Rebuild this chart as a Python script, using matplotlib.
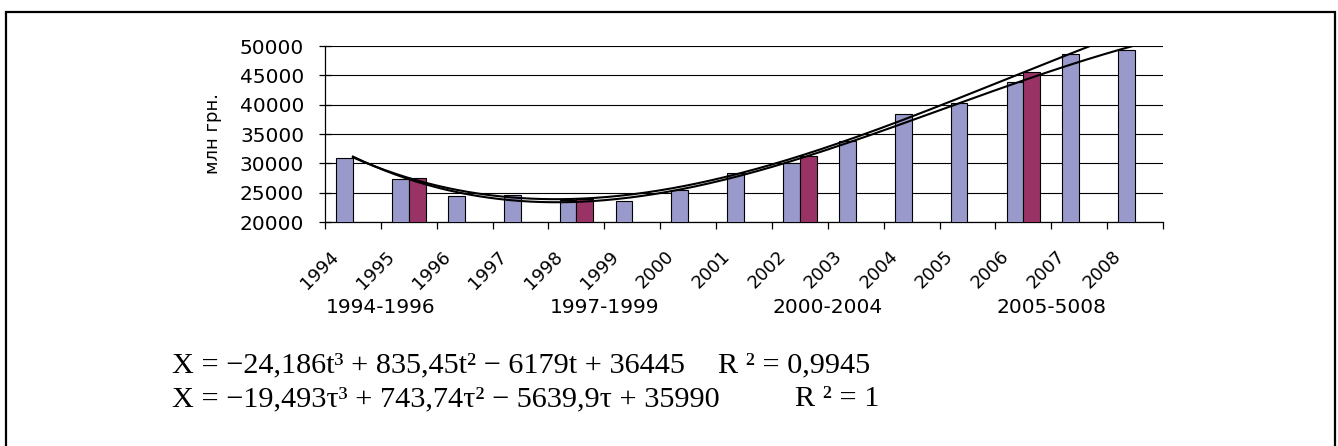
import numpy as np
import matplotlib.pyplot as plt
from matplotlib.patches import Rectangle

# данные (млн грн.)
years = ['1994', '1995', '1996', '1997', '1998', '1999', '2000', '2001',
         '2002', '2003', '2004', '2005', '2006', '2007', '2008']
values = [30900, 27400, 24500, 24600, 23800, 23600, 25500, 28300,
          30000, 33800, 38400, 40300, 43800, 48600, 49300]

# средние по периодам
period_idx = [1, 4, 8, 12]
period_values = [27500, 23950, 31250, 45500]
period_names = ['1994-1996', '1997-1999', '2000-2004', '2005-5008']
period_pos = [0.5, 4.5, 8.5, 12.5]

eq1 = 'X = \u221224,186t\u00b3 + 835,45t\u00b2 \u2212 6179t + 36445'
r1 = 'R \u00b2 = 0,9945'
eq2 = 'X = \u221219,493\u03c4\u00b3 + 743,74\u03c4\u00b2 \u2212 5639,9\u03c4 + 35990'
r2 = 'R \u00b2 = 1'

W, H = 1338, 446
fig = plt.figure(figsize=(W / 100, H / 100), dpi=100)
ax = fig.add_axes([325 / W, 1 - 222 / H, (1163 - 325) / W, (222 - 46) / H])

x = np.arange(len(years))
bw = 0.3
ax.bar(x - bw / 2, values, width=bw, color='#9999CC', edgecolor='black',
       linewidth=0.8, zorder=3)
ax.bar(np.array(period_idx) + bw / 2, period_values, width=bw,
       color='#993366', edgecolor='black', linewidth=0.8, zorder=3)

# полиномиальные тренды 3-й степени
t = x + 1
tt = np.linspace(1, 15, 300)
p1 = np.polyfit(t, values, 3)
p2 = np.polyfit(np.array(period_idx) + 1, period_values, 3)
ax.plot(tt - 1, np.polyval(p1, tt), color='black', lw=1.5, zorder=4)
ax.plot(tt - 1, np.polyval(p2, tt), color='black', lw=1.5, zorder=4)

ax.set_xlim(-0.5, 14.5)
ax.set_ylim(20000, 50000)
ax.set_yticks(np.arange(20000, 50001, 5000))
ax.yaxis.grid(True, color='black', lw=0.8, zorder=0)
ax.set_axisbelow(True)
for s in ['top', 'right']:
    ax.spines[s].set_visible(False)
ax.spines['left'].set_linewidth(0.9)
ax.spines['bottom'].set_linewidth(0.9)

ax.set_xticks(np.arange(-0.5, 15, 1))
ax.set_xticklabels([])
ax.tick_params(axis='x', direction='out', length=5, width=0.9)
ax.tick_params(axis='y', direction='inout', length=9, width=0.9, pad=10.5,
               labelsize=14.5)

tr = ax.get_xaxis_transform()
for i, y in enumerate(years):
    ax.text(i - 0.3, -0.18, y, transform=tr, rotation=45, ha='right',
            va='center', rotation_mode='anchor', fontsize=13)
for pos, name in zip(period_pos, period_names):
    ax.text(pos, -0.483, name, transform=tr, ha='center', va='center',
            fontsize=14.5)

ax.text(-0.134, 0.5, 'млн грн.', transform=ax.transAxes, rotation=90,
        ha='center', va='center', fontsize=13)

# уравнения трендов
ef = dict(family='Liberation Serif', fontsize=21.8, va='baseline')
fig.text(172 / W, 1 - 372.5 / H, eq1, **ef)
fig.text(718 / W, 1 - 372.5 / H, r1, **ef)
fig.text(172 / W, 1 - 406.5 / H, eq2, **ef)
fig.text(795 / W, 1 - 406.5 / H, r2, **ef)

# рамка
fig.add_artist(Rectangle((6.5 / W, -0.1), (1335 - 6.5) / W, 1.1 - 12 / H,
                         transform=fig.transFigure, fill=False,
                         edgecolor='black', lw=1.6))

fig.savefig('out.png', dpi=100)
